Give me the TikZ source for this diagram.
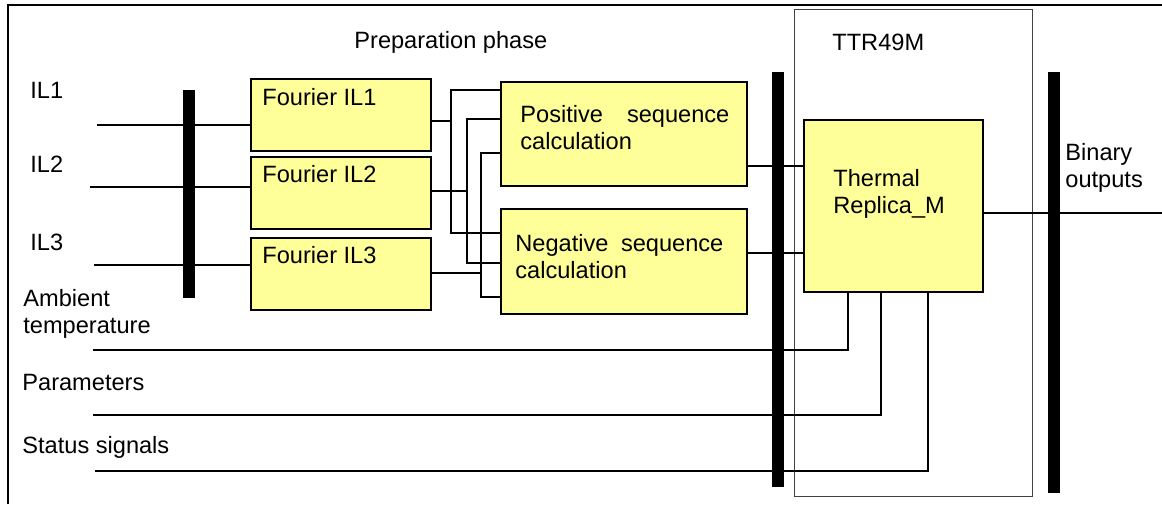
\documentclass[tikz,border=0pt]{standalone}
\usepackage{fontspec}
\setmainfont{Liberation Sans}
\usepackage{xcolor}
\definecolor{boxyellow}{HTML}{FFFF99}
\definecolor{framegray}{HTML}{404040}

\begin{document}
\begin{tikzpicture}[x=0.5pt, y=-0.5pt,
	font=\fontsize{11.8}{13.5}\selectfont,
	blk/.style={draw, fill=boxyellow, line width=1pt, anchor=north west, inner sep=0pt},
	bus/.style={fill=black, anchor=north west, inner sep=0pt, minimum width=5.75pt},
	sig/.style={line width=0.65pt},
	txt/.style={anchor=base west, inner sep=0pt},
	txtm/.style={anchor=north west, inner sep=0pt, align=left}]
	\useasboundingbox (0,0) rectangle (1162,504);
	% frame
	\draw[line width=1pt] (7.5,504) -- (7.5,5) -- (1162,5);
	% TTR49M function box
	\node[draw=framegray, line width=0.7pt, anchor=north west, inner sep=0pt,
		minimum width=119pt, minimum height=243.5pt] (ttr) at (794,9) {};
	% blocks
	\node[blk, minimum width=90pt, minimum height=36pt] (fIL1) at (250,78) {};
	\node[blk, minimum width=90pt, minimum height=36pt] (fIL2) at (250,156) {};
	\node[blk, minimum width=90pt, minimum height=36pt] (fIL3) at (250,237) {};
	\node[blk, minimum width=123pt, minimum height=52pt] (pos) at (500,81) {};
	\node[blk, minimum width=123pt, minimum height=52.5pt] (neg) at (500,208) {};
	\node[blk, minimum width=89.5pt, minimum height=86pt] (therm) at (803,119) {};
	% texts
	\node[txt] (tprep) at (354,48) {Preparation phase};
	\node[txt] (tttr) at (832,50) {TTR49M};
	\node[txt] (tIL1) at (30,98) {IL1};
	\node[txt] (tIL2) at (30,172) {IL2};
	\node[txt] (tIL3) at (30,250) {IL3};
	\node[txtm] (tamb) at (23,289) {Ambient\\temperature};
	\node[txt] (tpar) at (22,390) {Parameters};
	\node[txt] (tsta) at (22,453) {Status signals};
	\node[txt] (tf1) at (262,105) {Fourier IL1};
	\node[txt] (tf2) at (262,182) {Fourier IL2};
	\node[txt] (tf3) at (262,263) {Fourier IL3};
	\node[txtm] (tpos) at (520,105) {\makebox[104.5pt][s]{Positive sequence}\\calculation};
	\node[txtm] (tneg) at (515,234) {\makebox[104pt][s]{Negative sequence}\\calculation};
	\node[txtm] (ttherm) at (833,169) {Thermal\\Replica\_M};
	\node[txtm] (tbin) at (1065,143) {Binary\\outputs};
	% free ends and junctions
	\coordinate (inIL1) at (97,125);
	\coordinate (inIL2) at (90,187);
	\coordinate (inIL3) at (94,265);
	\coordinate (inAmb) at (93,350);
	\coordinate (inPar) at (93,415);
	\coordinate (inSta) at (95,471);
	\coordinate (outBin) at (1162,213);
	\coordinate (j1) at (451,121);
	\coordinate (j2) at (467,191);
	\coordinate (j3) at (481,273);
	% signals
	\draw[sig] (inIL1) -- (inIL1 -| fIL1.west);
	\draw[sig] (inIL2) -- (inIL2 -| fIL2.west);
	\draw[sig] (inIL3) -- (inIL3 -| fIL3.west);
	\draw[sig] (fIL1.east |- j1) -- (j1);
	\draw[sig] (fIL2.east |- j2) -- (j2);
	\draw[sig] (fIL3.east |- j3) -- (j3);
	\draw[sig] (pos.west |- 0,90) -| (j1) |- (neg.west |- 0,233);
	\draw[sig] (pos.west |- 0,119) -| (j2) |- (neg.west |- 0,263);
	\draw[sig] (pos.west |- 0,153) -| (j3) |- (neg.west |- 0,297);
	\draw[sig] (pos.east |- 0,166) -- (therm.west |- 0,166);
	\draw[sig] (neg.east |- 0,253) -- (therm.west |- 0,253);
	\draw[sig] (therm.east |- outBin) -- (outBin);
	\draw[sig] (inAmb) -| (848,0 |- therm.south);
	\draw[sig] (inPar) -| (881,0 |- therm.south);
	\draw[sig] (inSta) -| (928,0 |- therm.south);
	% busbars
	\node[bus, minimum height=104pt] (bar1) at (183,90) {};
	\node[bus, minimum height=207.5pt] (bar2) at (772,72) {};
	\node[bus, minimum height=210.5pt] (bar3) at (1048,72) {};
\end{tikzpicture}
\end{document}
